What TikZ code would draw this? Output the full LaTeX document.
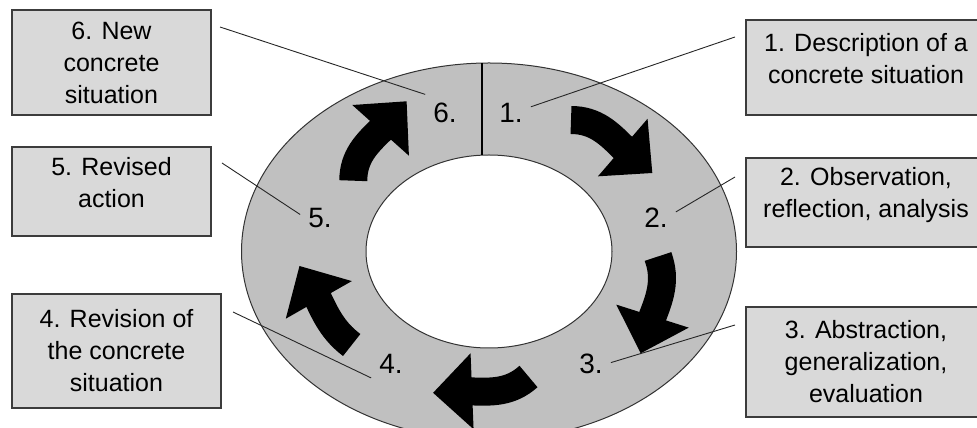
\documentclass[tikz,border=0pt]{standalone}
\usepackage{fontspec}
\setmainfont{Liberation Sans}
\usetikzlibrary{arrows.meta, bending}
\definecolor{ringgray}{RGB}{192,192,192}
\definecolor{boxgray}{RGB}{217,217,217}
\definecolor{edgegray}{RGB}{60,60,60}

\begin{document}
\begin{tikzpicture}[x=1pt, y=1pt,
    stagebox/.style={draw=edgegray, line width=1.5pt, fill=boxgray, align=center,
        inner sep=0pt, font=\fontsize{25}{32}\selectfont},
    steplabel/.style={font=\fontsize{28}{32}\selectfont, inner sep=8pt},
    lead/.style={draw=black!85, line width=0.9pt},
    cyclearrow/.style={line width=28pt,
        -{Triangle[width=76pt, length=39pt, line width=0pt]}}
]
\useasboundingbox (0,0) rectangle (977,428);
\clip (0,0) rectangle (977,428);

% Ring
\coordinate (ctr) at (489,176.5);
\draw[draw=black!80, line width=1pt, fill=ringgray] (ctr) ellipse [x radius=247.5, y radius=188.5];
\draw[draw=black!80, line width=1pt, fill=white] (ctr) ellipse [x radius=123, y radius=96.5];
\draw[line width=2pt] (482,365) -- (482,273);

% Left boxes
\node[stagebox, minimum width=199pt, minimum height=105pt] (b6) at (111.5,365.5)
    {6. New\\concrete\\situation};
\node[stagebox, minimum width=199pt, minimum height=89pt] (b5) at (111.5,236.5)
    {5. Revised\\action\rule[-18pt]{0pt}{0pt}};
\node[stagebox, minimum width=209pt, minimum height=114pt] (b4) at (116.5,77)
    {4. Revision of\\the concrete\\situation};

% Right boxes
\node[stagebox, minimum width=240pt, minimum height=95pt] (b1) at (866,360.5)
    {1. Description of a\\concrete situation\rule[-18pt]{0pt}{0pt}};
\node[stagebox, minimum width=240pt, minimum height=89pt] (b2) at (866,225.5)
    {2. Observation,\\reflection, analysis\rule[-20pt]{0pt}{0pt}};
\node[stagebox, minimum width=240pt, minimum height=110pt] (b3) at (866,66)
    {3. Abstraction,\\generalization,\\evaluation};

% Step numbers
\node[steplabel] (n1) at (511,315.5) {1.};
\node[steplabel] (n2) at (656,210) {2.};
\node[steplabel] (n3) at (591,64) {3.};
\node[steplabel] (n4) at (391,64) {4.};
\node[steplabel] (n5) at (320,210) {5.};
\node[steplabel] (n6) at (445,315.5) {6.};

% Leader lines
\coordinate (c1) at (735,391);
\coordinate (c2) at (735,251);
\coordinate (c3) at (735,103);
\coordinate (c4) at (233,116);
\coordinate (c5) at (222,265);
\coordinate (c6) at (220,401);
\draw[lead] (c1) -- (n1.16);
\draw[lead] (c2) -- (n2.17);
\draw[lead] (c3) -- (n3.4);
\draw[lead] (c4) -- (n4.215);
\draw[lead] (c5) -- (n5.170);
\draw[lead] (c6) -- (n6.north west);

% Cycle arrows
\coordinate (t1) at (571,308);
\coordinate (h1) at (652.3,255);
\coordinate (t2) at (658,171.5);
\coordinate (h2) at (640.7,74.7);
\coordinate (t3) at (528.5,51.5);
\coordinate (h3) at (433.1,35.2);
\coordinate (t4) at (351.7,83);
\coordinate (h4) at (299.5,162);
\coordinate (t5) at (353.3,247.3);
\coordinate (h5) at (406.6,326.7);
\draw[cyclearrow] (t1) to[out=0, in=147] (h1);
\draw[cyclearrow] (t2) to[out=-70, in=79] (h2);
\draw[cyclearrow] (t3) to[out=222, in=10] (h3);
\draw[cyclearrow] (t4) to[out=143, in=-54] (h4);
\draw[cyclearrow] (t5) to[out=90, in=236] (h5);
\end{tikzpicture}
\end{document}
